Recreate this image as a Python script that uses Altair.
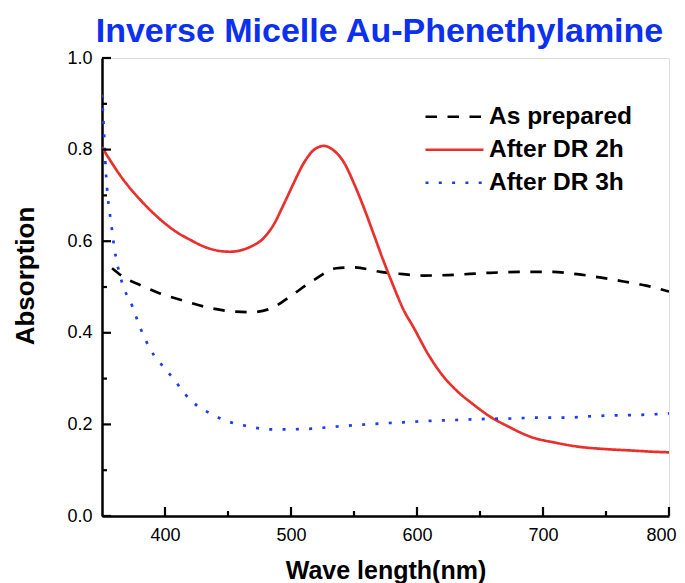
import altair as alt
import pandas as pd

# ---- data ----
series_names = ["As prepared", "After DR 2h", "After DR 3h"]
series_colors = ["#000000", "#e8302c", "#1a3cf5"]

wl_prepared = [358, 368, 380.5, 396, 415, 433, 449, 468, 484, 499, 518, 536, 550,
               571, 589, 605, 624, 658, 690, 708, 727, 745, 764, 782, 800]
ab_prepared = [0.541, 0.52, 0.504, 0.486, 0.47, 0.456, 0.448, 0.445, 0.453, 0.479,
               0.515, 0.541, 0.543, 0.533, 0.528, 0.525, 0.526, 0.531, 0.533, 0.533,
               0.528, 0.521, 0.512, 0.503, 0.49]

wl_dr2 = [350, 367, 380.5, 394, 407, 420, 433, 445, 452, 460, 468, 478, 486,
          494, 502, 510, 518, 526, 534, 542, 550, 558, 565, 573, 581, 589, 597,
          610, 620, 631, 645, 658, 672, 690, 710, 729, 750, 770, 790, 800]
ab_dr2 = [0.805, 0.734, 0.69, 0.653, 0.624, 0.603, 0.586, 0.578, 0.577, 0.58,
          0.588, 0.606, 0.635, 0.679, 0.726, 0.77, 0.799, 0.808, 0.798, 0.772, 0.726,
          0.672, 0.62, 0.56, 0.504, 0.452, 0.413, 0.348, 0.308, 0.275, 0.243,
          0.217, 0.196, 0.173, 0.16, 0.151, 0.146, 0.143, 0.14, 0.139]

wl_dr3 = [350, 351.5, 353, 354.6, 357.3, 360, 362, 368, 372.6, 376.5, 380.5, 391, 399,
          408, 416, 425.4, 436, 446.5, 457, 468, 478, 488, 498, 509, 519, 530, 540,
          571, 592, 613, 634, 655, 676, 697.5, 719, 740, 761, 779, 800]
ab_dr3 = [0.92, 0.843, 0.755, 0.697, 0.639, 0.581, 0.552, 0.493, 0.468, 0.439, 0.41,
          0.352, 0.325, 0.295, 0.266, 0.241, 0.224, 0.21, 0.201, 0.195, 0.19, 0.189,
          0.189, 0.19, 0.191, 0.194, 0.196, 0.202, 0.205, 0.208, 0.21, 0.212, 0.213,
          0.215, 0.215, 0.218, 0.22, 0.221, 0.224]

x_major = [400, 500, 600, 700, 800]
x_minor = [450, 550, 650, 750]
y_major = [0.0, 0.2, 0.4, 0.6, 0.8, 1.0]
y_minor = [0.1, 0.3, 0.5, 0.7, 0.9]

# ---- tables ----
rows = []
for name, wl, ab in [(series_names[0], wl_prepared, ab_prepared),
                     (series_names[1], wl_dr2, ab_dr2),
                     (series_names[2], wl_dr3, ab_dr3)]:
    for i, (w, a) in enumerate(zip(wl, ab)):
        rows.append({"series": name, "wl": w, "ab": a, "order": i})
df = pd.DataFrame(rows)

FONT = "Liberation Sans"
W, H = 567, 458

xscale = alt.Scale(domain=[350, 800], nice=False, zero=False)
yscale = alt.Scale(domain=[0, 1], nice=False)

lines = alt.Chart(df).mark_line(strokeWidth=2.7, clip=True, interpolate="monotone").encode(
    x=alt.X("wl:Q", scale=xscale,
            axis=alt.Axis(values=x_major, format="d", ticks=False, grid=False,
                          labelFlush=True, labelFlushOffset=7,
                          labelPadding=10, labelFontSize=18, labelFont=FONT,
                          labelColor="black", domainColor="black", domainWidth=2.5,
                          title="Wave length(nm)", titleFont=FONT, titleFontSize=25,
                          titleFontWeight="bold", titleColor="black",
                          titleY=62, titleBaseline="alphabetic")),
    y=alt.Y("ab:Q", scale=yscale,
            axis=alt.Axis(values=y_major, format=".1f", ticks=False, grid=False,
                          labelFlush=False,
                          labelPadding=10, labelFontSize=18, labelFont=FONT,
                          labelColor="black", domainColor="black", domainWidth=2.5,
                          title="Absorption", titleFont=FONT, titleFontSize=26,
                          titleFontWeight="bold", titleColor="black",
                          titleX=-69, titleY=217.5, titleAngle=-90,
                          titleAlign="center", titleBaseline="alphabetic")),
    color=alt.Color("series:N",
                    scale=alt.Scale(domain=series_names, range=series_colors),
                    legend=alt.Legend(title=None, orient="none", legendX=322, legendY=42.5,
                                      symbolType="stroke", symbolSize=3364,
                                      symbolStrokeWidth=2.7, labelFont=FONT,
                                      labelFontSize=24.5, labelFontWeight="bold",
                                      labelColor="black", labelOffset=4, rowPadding=0,
                                      clipHeight=32.5)),
    strokeDash=alt.StrokeDash("series:N",
                              scale=alt.Scale(domain=series_names,
                                              range=[[11.5, 10.5], [1, 0], [3, 10.3]]),
                              legend=None),
    order="order:Q",
)

ymaj = alt.Chart(pd.DataFrame({"v": y_major})).mark_rule(strokeWidth=2.2, color="black").encode(
    y=alt.Y("v:Q", scale=yscale), x=alt.value(0), x2=alt.value(9))
ymin = alt.Chart(pd.DataFrame({"v": y_minor})).mark_rule(strokeWidth=2.2, color="black").encode(
    y=alt.Y("v:Q", scale=yscale), x=alt.value(0), x2=alt.value(5))
xmaj = alt.Chart(pd.DataFrame({"v": x_major})).mark_rule(strokeWidth=2.2, color="black").encode(
    x=alt.X("v:Q", scale=xscale), y=alt.value(H), y2=alt.value(H - 9))
xmin = alt.Chart(pd.DataFrame({"v": x_minor})).mark_rule(strokeWidth=2.2, color="black").encode(
    x=alt.X("v:Q", scale=xscale), y=alt.value(H), y2=alt.value(H - 5))

chart = alt.layer(lines, ymaj, ymin, xmaj, xmin).properties(
    width=W, height=H,
    title=alt.TitleParams("Inverse Micelle Au-Phenethylamine", font=FONT, fontSize=34,
                          fontWeight="bold", color="#0b30f0", anchor="middle", dx=-6,
                          dy=12, offset=12),
    autosize=alt.AutoSizeParams(type="none"),
    padding={"left": 94, "top": 50, "right": 8, "bottom": 67},
).configure_view(stroke=None).configure(background="white")

chart.save("out.html", embed_options={"renderer": "svg", "actions": False})
